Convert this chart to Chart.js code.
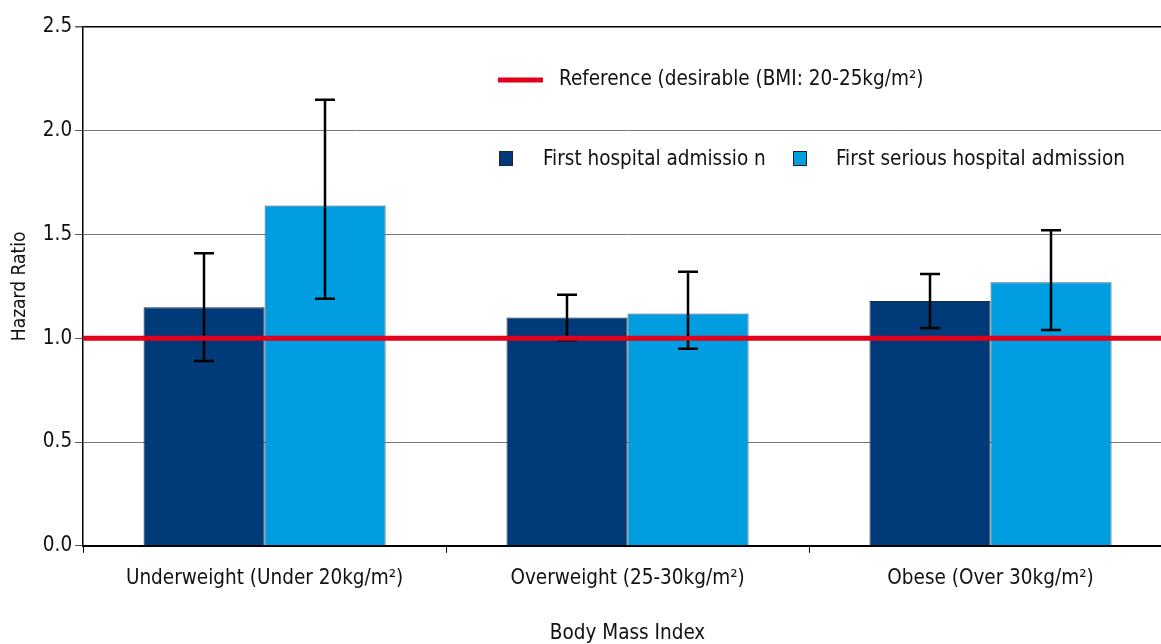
<!DOCTYPE html>
<html><head><meta charset="utf-8">
<script src="https://cdn.jsdelivr.net/npm/chart.js@4/dist/chart.umd.min.js"></script>
<style>
html,body{margin:0;padding:0;background:#fff;overflow:hidden;}
#wrap{width:1180px;height:644px;position:relative;}
</style></head><body>
<div id="wrap"><canvas id="c"></canvas></div>
<script>
const categories = ['Underweight (Under 20kg/m²)', 'Overweight (25-30kg/m²)', 'Obese (Over 30kg/m²)'];
const seriesNames = ['First hospital admissio n', 'First serious hospital admission'];
const firstAdmission = [1.15, 1.10, 1.18];
const firstAdmissionLow = [0.89, 0.99, 1.05];
const firstAdmissionHigh = [1.41, 1.21, 1.31];
const seriousAdmission = [1.64, 1.12, 1.27];
const seriousAdmissionLow = [1.19, 0.95, 1.04];
const seriousAdmissionHigh = [2.15, 1.32, 1.52];
const referenceValue = 1.0;
const referenceLabel = 'Reference (desirable (BMI: 20-25kg/m²)';
const yTicks = [0, 0.5, 1.0, 1.5, 2.0, 2.5];

const FONT = "'Liberation Sans Narrow', 'DejaVu Sans Condensed', sans-serif";
const FS = 20.5;
const DARK = '#003a78', LIGHT = '#009ee0', RED = '#e2001a';
const errors = [[firstAdmissionLow, firstAdmissionHigh], [seriousAdmissionLow, seriousAdmissionHigh]];

const overlay = {
  id: 'overlay',
  afterDatasetsDraw(chart) {
    const ctx = chart.ctx, y = chart.scales.y, ca = chart.chartArea;
    ctx.save();
    ctx.strokeStyle = '#000'; ctx.lineWidth = 2.5;
    chart.data.datasets.forEach((ds, di) => {
      const meta = chart.getDatasetMeta(di);
      meta.data.forEach((bar, i) => {
        const x = Math.round(bar.x);
        const lo = y.getPixelForValue(errors[di][0][i]);
        const hi = y.getPixelForValue(errors[di][1][i]);
        ctx.beginPath();
        ctx.moveTo(x, lo); ctx.lineTo(x, hi);
        ctx.moveTo(x - 10, lo); ctx.lineTo(x + 10, lo);
        ctx.moveTo(x - 10, hi); ctx.lineTo(x + 10, hi);
        ctx.stroke();
      });
    });
    const ry = y.getPixelForValue(referenceValue);
    ctx.strokeStyle = RED; ctx.lineWidth = 5;
    ctx.beginPath(); ctx.moveTo(ca.left, ry); ctx.lineTo(ca.right, ry); ctx.stroke();
    ctx.font = FS + 'px ' + FONT; ctx.fillStyle = '#111'; ctx.textBaseline = 'middle'; ctx.textAlign = 'left';
    ctx.beginPath(); ctx.moveTo(498, 80); ctx.lineTo(543, 80); ctx.stroke();
    ctx.fillText(referenceLabel, 559, 80);
    ctx.lineWidth = 1; ctx.strokeStyle = '#222';
    ctx.fillStyle = DARK; ctx.fillRect(499.5, 151.5, 13, 14); ctx.strokeRect(499.5, 151.5, 13, 14);
    ctx.fillStyle = LIGHT; ctx.fillRect(793.5, 151.5, 13, 14); ctx.strokeRect(793.5, 151.5, 13, 14);
    ctx.fillStyle = '#111';
    ctx.fillText(seriesNames[0], 543, 160);
    ctx.fillText(seriesNames[1], 836, 160);
    ctx.restore();
  }
};

new Chart(document.getElementById('c'), {
  type: 'bar',
  data: {
    labels: categories,
    datasets: [
      { label: seriesNames[0], data: firstAdmission, backgroundColor: DARK, borderColor: '#1b2b45', borderWidth: 1 },
      { label: seriesNames[1], data: seriousAdmission, backgroundColor: LIGHT, borderColor: '#3a5a70', borderWidth: 1 }
    ]
  },
  options: {
    responsive: true, maintainAspectRatio: false, animation: false,
    layout: { padding: { top: 27, right: 8, left: 5, bottom: -2 } },
    datasets: { bar: { categoryPercentage: 0.667, barPercentage: 1.0 } },
    plugins: { legend: { display: false }, tooltip: { enabled: false } },
    scales: {
      x: {
        grid: { offset: true, drawOnChartArea: false, color: '#000', tickLength: 7, tickWidth: 1 },
        border: { color: '#000', width: 2 },
        ticks: { color: '#111', font: { family: FONT, size: FS }, padding: 14, maxRotation: 0 },
        title: { display: true, text: 'Body Mass Index', color: '#111', font: { family: FONT, size: FS }, padding: { top: 16, bottom: 0 } }
      },
      y: {
        min: 0, max: 2.5,
        afterBuildTicks: (s) => { s.ticks = yTicks.map(v => ({ value: v })); },
        grid: { color: (c) => c.tick && c.tick.value === 2.5 ? '#000' : '#777', tickColor: '#555', tickLength: 8, lineWidth: (c) => c.tick && c.tick.value === 2.5 ? 1.5 : 1 },
        border: { color: '#000', width: 1.5 },
        ticks: { color: '#111', font: { family: FONT, size: FS }, padding: 3, callback: (v) => Number(v).toFixed(1) },
        title: { display: true, text: 'Hazard Ratio', color: '#111', font: { family: FONT, size: 19 }, padding: { bottom: 8 } }
      }
    }
  },
  plugins: [overlay]
});
</script>
</body></html>
